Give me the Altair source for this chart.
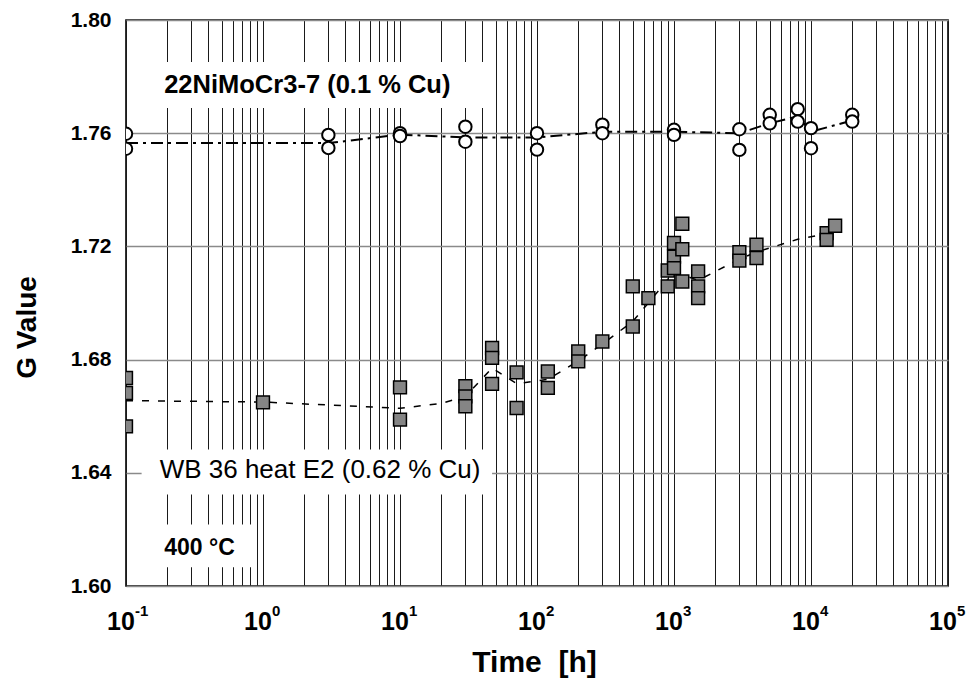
import altair as alt
import pandas as pd

# ---------------- data ----------------
circ_t = [0.1, 0.1, 3, 3, 10, 10, 30, 30, 100, 100, 300, 300, 1000, 1000,
          3000, 3000, 5000, 5000, 8000, 8000, 10000, 10000, 20000, 20000]
circ_g = [1.7598, 1.7545, 1.7594, 1.7548, 1.7600, 1.7590, 1.7623, 1.7570,
          1.7600, 1.7542, 1.7630, 1.7600, 1.7612, 1.7594, 1.7614, 1.7541,
          1.7665, 1.7635, 1.7685, 1.7641, 1.7618, 1.7547, 1.7665, 1.7641]

sq_t = [0.1, 0.1, 0.1, 1, 10, 10, 30, 30, 30, 47, 47, 47, 71, 71, 120, 120,
        200, 200, 300, 500, 500, 650, 900, 900, 1000, 1000, 1000,
        1150, 1150, 1150, 1500, 1500, 1500, 3000, 3000, 4000, 4000,
        13000, 13000, 15000]
sq_g = [1.6735, 1.6682, 1.6564, 1.6649, 1.6702, 1.6588, 1.6706, 1.6670, 1.6635,
        1.6841, 1.6806, 1.6714, 1.6755, 1.6629, 1.6758, 1.6700,
        1.6829, 1.6794, 1.6864, 1.7059, 1.6917, 1.7017, 1.7115, 1.7059,
        1.7212, 1.7164, 1.7123, 1.7280, 1.7190, 1.7076, 1.7112, 1.7059, 1.7017,
        1.7180, 1.7150, 1.7206, 1.7159, 1.7247, 1.7223, 1.7273]

circ_fit_t = [0.1, 3, 10, 30, 100, 300, 1000, 3000, 5000, 8000, 10000, 20000]
circ_fit_g = [1.7565, 1.7565, 1.7595, 1.7585, 1.7585, 1.7605, 1.7605, 1.7600,
              1.7635, 1.7660, 1.7605, 1.7645]

sq_fit_t = [0.1, 1, 10, 20, 30, 47, 71, 120, 200, 300, 500, 650, 1000, 1500,
            3000, 4000, 8000, 13000, 15000]
sq_fit_g = [1.6655, 1.6650, 1.6628, 1.6645, 1.6670, 1.6770, 1.6715, 1.6730,
            1.6795, 1.6855, 1.6935, 1.7000, 1.7110, 1.7080, 1.7155, 1.7180,
            1.7225, 1.7245, 1.7265]

tick_t = [0.1, 1, 10, 100, 1000, 10000, 100000]
tick_base = ["10"] * 7
tick_exp = ["-1", "0", "1", "2", "3", "4", "5"]

y_ticks = [1.60, 1.64, 1.68, 1.72, 1.76, 1.80]

label_text = ["22NiMoCr3-7 (0.1 % Cu)", "WB 36 heat E2 (0.62 % Cu)", "400 °C"]
label_t = [0.19, 0.176, 0.19]
label_g = [1.7771, 1.6411, 1.6136]

box_t0 = [0.13, 0.13, 0.102]
box_t1 = [47, 47, 0.87]
box_g0 = [1.7689, 1.6323, 1.6066]
box_g1 = [1.7852, 1.6482, 1.6217]

grid_vals = [k * 10.0 ** e for e in range(-1, 5) for k in range(1, 10)] + [100000]

FONT = "Liberation Sans"
W, H = 822, 566

xs = alt.Scale(type="log", domain=[0.1, 100000], nice=False)
ys = alt.Scale(domain=[1.60, 1.80], nice=False, zero=False)

circ_df = pd.DataFrame({"t": circ_t, "g": circ_g})
sq_df = pd.DataFrame({"t": sq_t, "g": sq_g})
cfit_df = pd.DataFrame({"t": circ_fit_t, "g": circ_fit_g})
sfit_df = pd.DataFrame({"t": sq_fit_t, "g": sq_fit_g})
tick_df = pd.DataFrame({"t": tick_t, "base": tick_base, "exp": tick_exp})
box_df = pd.DataFrame({"t0": box_t0, "t1": box_t1, "g0": box_g0, "g1": box_g1})
lab_df = pd.DataFrame({"t": label_t, "g": label_g, "text": label_text})

x_axis = alt.Axis(values=grid_vals, labels=False, ticks=False, domain=False,
                  grid=True, gridColor="#1a1a1a", gridWidth=1,
                  title="Time\u00a0\u00a0[h]", titleFont=FONT, titleFontSize=30,
                  titleFontWeight="bold", titleColor="black",
                  titleX=W / 2 - 3, titleY=76, titleAlign="center",
                  titleBaseline="middle")
y_axis = alt.Axis(values=y_ticks, format=".2f", labelFont=FONT, labelFontSize=21,
                  labelFontWeight="bold", labelColor="black", labelPadding=15,
                  ticks=False, domain=False, grid=True, gridColor="#8a8a8a",
                  gridWidth=1.3, title="G Value", titleFont=FONT,
                  titleFontSize=28, titleFontWeight="bold", titleColor="black",
                  titleAngle=270, titleX=-99, titleY=307, titleAlign="center",
                  titleBaseline="middle")

circ_line = alt.Chart(cfit_df).mark_line(
    color="black", strokeWidth=2, strokeDash=[12, 5, 3, 5]
).encode(x=alt.X("t:Q", scale=xs, axis=x_axis),
         y=alt.Y("g:Q", scale=ys, axis=y_axis))

sq_line = alt.Chart(sfit_df).mark_line(
    color="black", strokeWidth=1.5, strokeDash=[7, 9]
).encode(x=alt.X("t:Q", scale=xs), y=alt.Y("g:Q", scale=ys))

boxes = alt.Chart(box_df).mark_rect(fill="white", stroke=None).encode(
    x=alt.X("t0:Q", scale=xs), x2="t1:Q",
    y=alt.Y("g0:Q", scale=ys), y2="g1:Q")

circ_pts = alt.Chart(circ_df).mark_point(
    shape="circle", filled=True, fill="white", stroke="black", strokeWidth=2,
    size=155, opacity=1, clip=True
).encode(x=alt.X("t:Q", scale=xs), y=alt.Y("g:Q", scale=ys))

sq_pts = alt.Chart(sq_df).mark_point(
    shape="square", filled=True, fill="#858585", stroke="black",
    strokeWidth=1.5, size=165, opacity=1, clip=True
).encode(x=alt.X("t:Q", scale=xs), y=alt.Y("g:Q", scale=ys))

lab1 = alt.Chart(lab_df.iloc[[0]]).mark_text(
    align="left", baseline="middle", font=FONT, fontSize=25.5, fontWeight="bold",
    color="black"
).encode(x=alt.X("t:Q", scale=xs), y=alt.Y("g:Q", scale=ys), text="text:N")
lab2 = alt.Chart(lab_df.iloc[[1]]).mark_text(
    align="left", baseline="middle", font=FONT, fontSize=26, fontWeight="normal",
    color="black"
).encode(x=alt.X("t:Q", scale=xs), y=alt.Y("g:Q", scale=ys), text="text:N")
lab3 = alt.Chart(lab_df.iloc[[2]]).mark_text(
    align="left", baseline="middle", font=FONT, fontSize=23, fontWeight="bold",
    color="black"
).encode(x=alt.X("t:Q", scale=xs), y=alt.Y("g:Q", scale=ys), text="text:N")

tick_base_txt = alt.Chart(tick_df).mark_text(
    align="center", baseline="middle", font=FONT, fontSize=25, fontWeight="bold",
    color="black", dx=-5
).encode(x=alt.X("t:Q", scale=xs), y=alt.value(H + 36), text="base:N")
tick_exp_txt = alt.Chart(tick_df).mark_text(
    align="left", baseline="middle", font=FONT, fontSize=15, fontWeight="bold",
    color="black", dx=9
).encode(x=alt.X("t:Q", scale=xs), y=alt.value(H + 25), text="exp:N")

chart = alt.layer(
    circ_line, sq_line, boxes, circ_pts, sq_pts, lab1, lab2, lab3,
    tick_base_txt, tick_exp_txt
).properties(
    width=W, height=H,
    autosize=alt.AutoSizeParams(type="none"),
    padding={"left": 126, "top": 20, "right": 26, "bottom": 103},
    background="white"
).configure_view(stroke="black", strokeWidth=1.6)

chart.save("out.html", embed_options={"renderer": "svg", "actions": False})
